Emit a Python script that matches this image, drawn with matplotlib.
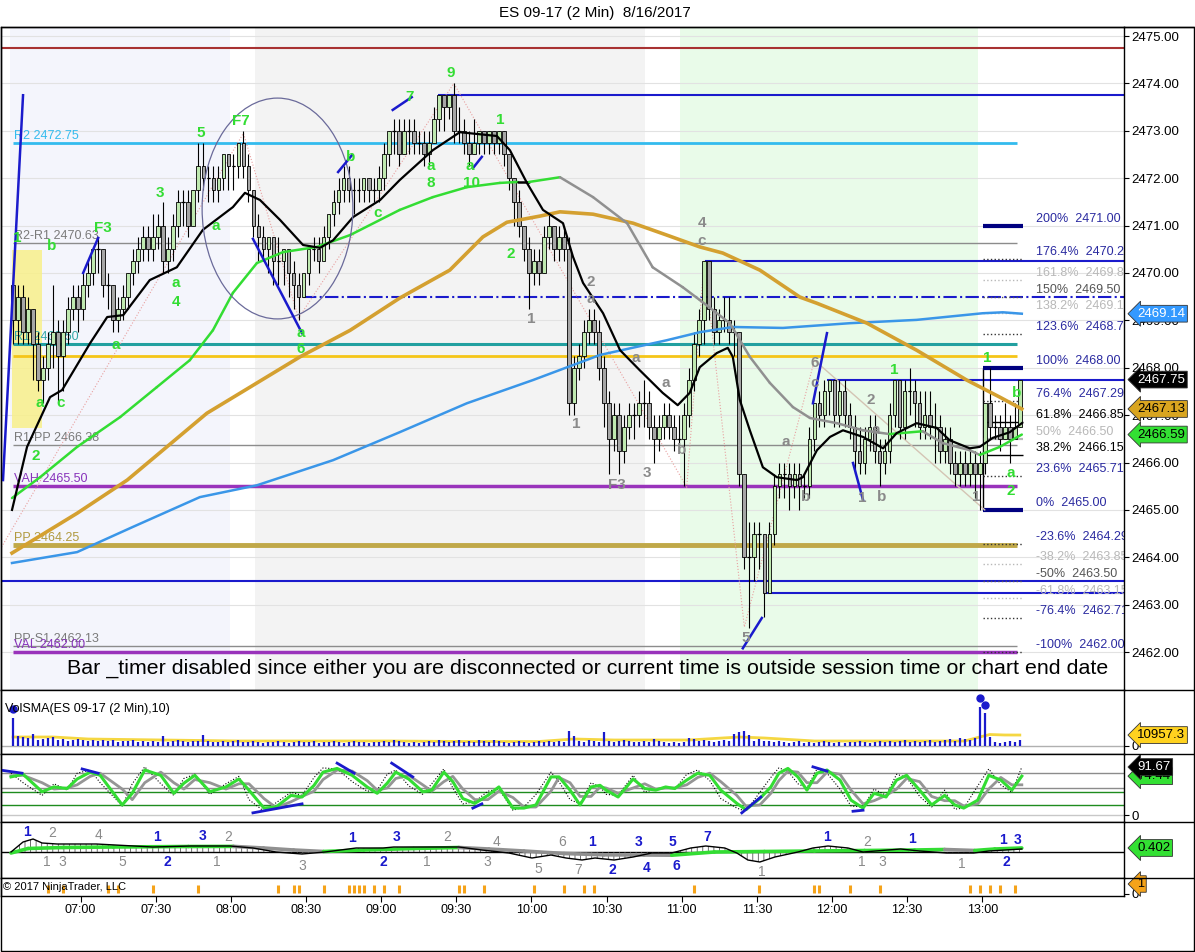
import matplotlib
matplotlib.use("Agg")
import matplotlib.pyplot as plt
import numpy as np
from matplotlib.patches import Ellipse, Rectangle
from matplotlib.collections import LineCollection
from matplotlib.lines import Line2D

plt.rcParams['font.family'] = ['Liberation Sans', 'DejaVu Sans']
plt.rcParams['hatch.linewidth'] = 0.6

# 2 min bars, bar 0 sits at 06:33 (minutes after midnight)
BAR0_MIN = 393
BAR_MIN = 2

# ---------------- price bars ----------------
first_open = 2469.75
closes = [
    2469.0, 2469.5, 2468.75, 2469.25, 2468.5, 2467.75, 2468.0, 2468.5, 2468.75, 2468.25,
    2468.75, 2469.25, 2469.5, 2469.25, 2469.75, 2470.0, 2470.5, 2470.5, 2469.75, 2469.75,
    2469.0, 2469.25, 2469.5, 2470.0, 2470.25, 2470.5, 2470.75, 2470.5, 2470.75, 2471.0,
    2470.25, 2470.5, 2471.0, 2471.5, 2471.5, 2471.0, 2471.75, 2472.25, 2472.0, 2472.0,
    2471.75, 2472.0, 2472.5, 2472.25, 2472.25, 2472.75, 2472.25, 2471.75, 2471.0, 2470.75,
    2470.5, 2470.75, 2470.25, 2470.25, 2470.5, 2470.0, 2469.75, 2469.5, 2470.0, 2470.5,
    2470.5, 2470.25, 2470.75, 2471.25, 2471.5, 2471.75, 2472.0, 2471.75, 2471.75, 2471.75,
    2472.0, 2471.75, 2471.75, 2472.0, 2472.5, 2473.0, 2473.0, 2472.5, 2473.0, 2473.0,
    2472.75, 2472.75, 2472.5, 2472.75, 2473.25, 2473.75, 2473.5, 2473.75, 2473.0, 2473.0,
    2472.75, 2472.5, 2472.75, 2473.0, 2472.75, 2473.0, 2472.75, 2473.0, 2472.5, 2472.0,
    2471.5, 2471.0, 2470.5, 2470.0, 2470.25, 2470.0, 2470.75, 2471.0, 2470.5, 2470.75,
    2470.5, 2467.25, 2468.0, 2468.25, 2468.75, 2469.0, 2468.75, 2468.0, 2467.25, 2466.5,
    2467.0, 2466.25, 2466.75, 2467.0, 2467.0, 2467.25, 2467.25, 2466.75, 2466.5, 2466.75,
    2467.0, 2466.75, 2466.5, 2466.5, 2467.0, 2467.75, 2468.5, 2469.0, 2470.25, 2469.25,
    2468.75, 2469.0, 2469.0, 2468.75, 2468.75, 2465.75, 2464.0, 2464.0, 2464.5, 2464.5,
    2463.25, 2464.5, 2465.5, 2465.75, 2465.75, 2465.5, 2465.75, 2465.5, 2465.5, 2466.5,
    2467.25, 2467.0, 2467.5, 2467.75, 2467.0, 2467.5, 2467.0, 2466.75, 2466.25, 2466.0,
    2466.5, 2466.75, 2466.25, 2466.0, 2466.25, 2467.0, 2467.75, 2466.75, 2467.5, 2467.5,
    2467.25, 2466.75, 2467.0, 2466.75, 2466.75, 2466.25, 2466.5, 2466.0, 2465.75, 2466.0,
    2465.75, 2466.0, 2465.75, 2466.0, 2467.25, 2466.75, 2466.75, 2466.5, 2466.75, 2466.5,
    2466.75, 2467.75]
highs = [
    2469.75, 2469.75, 2469.75, 2469.5, 2469.25, 2468.75, 2468.25, 2468.75, 2469.75, 2469.0,
    2469.0, 2469.5, 2469.75, 2469.75, 2470.0, 2470.25, 2470.5, 2470.75, 2470.5, 2470.0,
    2469.75, 2469.5, 2469.75, 2470.0, 2470.5, 2470.75, 2471.0, 2471.0, 2471.25, 2471.25,
    2471.5, 2470.75, 2471.25, 2471.75, 2471.75, 2471.75, 2471.75, 2472.75, 2472.75, 2472.25,
    2472.25, 2472.25, 2472.5, 2472.5, 2472.5, 2472.75, 2473.0, 2472.5, 2471.75, 2471.25,
    2471.0, 2470.75, 2470.75, 2470.75, 2470.5, 2470.5, 2470.25, 2470.0, 2470.0, 2470.5,
    2470.75, 2470.75, 2471.0, 2471.25, 2471.75, 2472.0, 2472.25, 2472.25, 2472.0, 2472.0,
    2472.0, 2472.0, 2472.0, 2472.25, 2472.75, 2473.0, 2473.25, 2473.25, 2473.25, 2473.25,
    2473.25, 2473.0, 2473.0, 2473.0, 2473.5, 2473.75, 2473.75, 2473.75, 2474.0, 2473.5,
    2473.25, 2473.0, 2473.25, 2473.0, 2473.0, 2473.0, 2473.0, 2473.0, 2473.0, 2472.5,
    2472.0, 2471.75, 2471.0, 2470.75, 2470.5, 2470.5, 2471.0, 2471.25, 2471.0, 2471.0,
    2471.0, 2470.75, 2468.25, 2468.5, 2469.0, 2469.25, 2469.25, 2469.0, 2468.25, 2467.5,
    2467.25, 2467.25, 2467.0, 2467.25, 2467.25, 2467.5, 2467.75, 2467.5, 2467.0, 2467.0,
    2467.25, 2467.25, 2467.0, 2467.0, 2467.25, 2468.0, 2468.75, 2469.25, 2470.25, 2470.25,
    2469.5, 2469.25, 2469.5, 2469.5, 2469.0, 2468.75, 2465.75, 2464.75, 2464.75, 2464.75,
    2464.5, 2464.75, 2465.75, 2466.0, 2466.0, 2466.0, 2466.0, 2466.0, 2465.75, 2466.75,
    2467.25, 2467.5, 2467.75, 2467.75, 2467.75, 2467.75, 2467.75, 2467.25, 2467.0, 2466.75,
    2466.75, 2467.0, 2467.0, 2466.5, 2466.5, 2467.25, 2467.75, 2467.75, 2467.75, 2468.0,
    2467.75, 2467.5, 2467.5, 2467.5, 2467.25, 2467.0, 2466.75, 2466.75, 2466.25, 2466.25,
    2466.25, 2466.25, 2466.25, 2466.25, 2467.25, 2468.0, 2467.0, 2467.0, 2467.25, 2467.0,
    2467.25, 2467.75]
lows = [
    2468.5, 2468.5, 2468.5, 2468.5, 2467.75, 2467.5, 2467.25, 2467.75, 2468.0, 2467.25,
    2467.5, 2468.5, 2469.0, 2468.75, 2469.0, 2469.5, 2469.75, 2470.0, 2469.5, 2469.25,
    2468.75, 2468.75, 2469.0, 2469.25, 2469.75, 2470.0, 2470.25, 2470.25, 2470.25, 2470.5,
    2470.0, 2470.0, 2470.25, 2470.75, 2471.0, 2470.75, 2471.0, 2471.5, 2471.75, 2471.5,
    2471.5, 2471.5, 2471.75, 2471.75, 2471.75, 2472.0, 2472.0, 2471.5, 2470.75, 2470.25,
    2470.25, 2470.0, 2469.75, 2469.75, 2469.75, 2469.5, 2469.25, 2469.0, 2469.5, 2469.75,
    2470.25, 2470.0, 2470.25, 2470.5, 2471.0, 2471.25, 2471.5, 2471.5, 2471.25, 2471.5,
    2471.5, 2471.5, 2471.5, 2471.5, 2471.75, 2472.25, 2472.5, 2472.25, 2472.5, 2472.5,
    2472.5, 2472.5, 2472.25, 2472.25, 2472.75, 2473.0, 2473.0, 2473.25, 2472.75, 2472.75,
    2472.5, 2472.25, 2472.5, 2472.5, 2472.5, 2472.5, 2472.5, 2472.5, 2472.25, 2471.75,
    2471.0, 2470.75, 2470.25, 2469.25, 2469.75, 2469.75, 2470.0, 2470.5, 2470.25, 2470.25,
    2470.25, 2467.0, 2467.0, 2467.75, 2468.0, 2468.5, 2468.5, 2467.75, 2466.75, 2465.75,
    2466.25, 2465.75, 2466.0, 2466.5, 2466.5, 2466.75, 2466.75, 2466.5, 2466.0, 2466.25,
    2466.5, 2466.5, 2466.25, 2466.25, 2465.5, 2466.75, 2467.5, 2468.25, 2468.5, 2469.0,
    2468.5, 2468.5, 2468.75, 2468.5, 2468.25, 2465.5, 2463.75, 2462.5, 2463.5, 2463.75,
    2462.75, 2463.25, 2464.25, 2465.25, 2465.25, 2465.0, 2465.25, 2465.0, 2465.25, 2465.25,
    2466.25, 2466.75, 2466.75, 2467.0, 2466.75, 2466.75, 2466.75, 2466.5, 2465.75, 2465.75,
    2465.75, 2466.25, 2466.0, 2465.5, 2465.75, 2466.0, 2466.75, 2466.5, 2466.5, 2467.0,
    2466.75, 2466.5, 2466.5, 2466.5, 2466.0, 2466.0, 2466.0, 2465.75, 2465.5, 2465.5,
    2465.5, 2465.5, 2465.25, 2465.0, 2465.75, 2466.5, 2466.5, 2466.25, 2466.5, 2466.0,
    2466.5, 2466.75]

# volume in thousands of contracts
volume_k = [
    28, 10, 9, 8, 12, 6, 7, 8, 9, 6,
    7, 5, 6, 7, 6, 5, 6, 5, 6, 5,
    6, 4, 5, 5, 6, 4, 5, 4, 5, 4,
    10, 4, 5, 6, 5, 4, 5, 5, 11, 5,
    4, 4, 5, 4, 5, 6, 4, 4, 5, 4,
    3, 4, 4, 5, 4, 3, 4, 5, 4, 4,
    5, 3, 4, 4, 5, 4, 3, 4, 5, 4,
    4, 3, 4, 4, 5, 4, 6, 5, 4, 3,
    4, 3, 4, 5, 4, 6, 5, 4, 5, 6,
    4, 5, 4, 6, 5, 4, 6, 5, 4, 3,
    4, 5, 4, 3, 4, 5, 4, 5, 4, 5,
    4, 15, 10, 5, 4, 6, 5, 4, 14, 5,
    4, 5, 6, 5, 4, 4, 5, 4, 7, 5,
    4, 3, 4, 3, 4, 8, 7, 5, 6, 5,
    4, 5, 6, 5, 12, 14, 15, 11, 5, 7,
    5, 5, 4, 5, 4, 3, 4, 5, 3, 4,
    3, 4, 5, 4, 3, 4, 3, 4, 4, 5,
    4, 3, 4, 5, 4, 5, 4, 5, 6, 4,
    5, 4, 5, 6, 4, 5, 6, 7, 5, 8,
    7, 6, 8, 39, 33, 9, 4, 3, 4, 5,
    4, 6]
volsma_x = [0, 8, 15, 30, 45, 60, 75, 90, 105, 112, 120, 135, 145, 150, 160, 175, 190, 193, 195, 198, 201]
volsma_k = [9, 9, 7, 6, 5, 5, 5, 4.5, 4.5, 7, 6, 6, 9, 8, 5, 5, 5, 9, 11.5, 11, 10.96]
voldot_x = [0, 193, 194]
voldot_k = [37, 48, 41]

# ---------------- moving averages (bar, price) ----------------
ema_x = [-0.2, 2.8, 7.4, 9.8, 15.4, 18.8, 22.0, 27.3, 32.7, 37.9, 43.9, 46.3, 49.3, 53.3, 57.9, 61.3,
         63.9, 67.9, 73.3, 77.2, 83.8, 89.2, 96.6, 99.2, 102.6, 105.8, 109.8, 111.8, 113.8, 117.8,
         121.2, 125.1, 129.7, 132.7, 135.1, 137.1, 140.5, 142.7, 143.7, 145.1, 147.1, 149.7, 152.5,
         156.5, 157.7, 160.5, 163.1, 165.7, 169.7, 173.7, 176.4, 180.4, 184.4, 187.0, 191.0, 193.0,
         195.6, 199.0, 201.4]
ema_y = [2465.00, 2466.33, 2467.38, 2467.53, 2468.52, 2469.07, 2469.11, 2469.85, 2470.12, 2470.91,
         2471.39, 2471.69, 2471.54, 2471.12, 2470.59, 2470.53, 2470.69, 2471.18, 2471.54, 2471.96,
         2472.59, 2472.97, 2472.89, 2472.59, 2471.90, 2471.33, 2471.05, 2470.34, 2469.79, 2469.15,
         2468.37, 2467.95, 2467.47, 2467.21, 2467.47, 2468.01, 2468.31, 2468.42, 2468.23, 2467.32,
         2466.68, 2465.90, 2465.69, 2465.63, 2465.69, 2466.26, 2466.54, 2466.68, 2466.54, 2466.30,
         2466.62, 2466.83, 2466.73, 2466.47, 2466.30, 2466.33, 2466.52, 2466.64, 2466.83]
mid_x = [-0.2, 5.4, 12.8, 21.4, 28.7, 35.3, 39.9, 43.9, 48.7, 53.9, 60.7, 67.3, 77.2, 83.8, 90.6,
         97.2, 100.8, 103.0, 109.2, 115.8, 122.6, 127.7, 133.7, 137.1, 143.1, 147.1, 151.1, 155.7,
         159.1, 164.5, 169.7, 175.0, 181.6, 185.6, 191.0, 193.0, 197.0, 201.4]
mid_y = [2465.25, 2465.69, 2466.33, 2466.96, 2467.59, 2468.16, 2468.79, 2469.58, 2470.21, 2470.44,
         2470.55, 2470.80, 2471.33, 2471.60, 2471.81, 2471.90, 2471.92, 2471.92, 2472.02, 2471.60,
         2471.05, 2470.12, 2469.70, 2469.43, 2468.94, 2468.23, 2467.68, 2467.17, 2466.94, 2466.83,
         2466.68, 2466.60, 2466.66, 2466.41, 2466.26, 2466.16, 2466.33, 2466.59]
gold_x = [-0.2, 12.8, 22.8, 30.7, 38.7, 47.3, 57.3, 67.3, 77.2, 87.2, 93.8, 98.6, 105.2, 109.2, 115.8,
          123.8, 130.5, 137.1, 141.7, 149.1, 157.1, 160.5, 170.5, 180.4, 190.4, 197.0, 201.4]
gold_y = [2464.09, 2464.93, 2465.63, 2466.33, 2467.04, 2467.59, 2468.23, 2468.79, 2469.47, 2470.06,
          2470.76, 2471.07, 2471.20, 2471.29, 2471.24, 2471.05, 2470.80, 2470.55, 2470.42, 2470.06,
          2469.49, 2469.36, 2468.94, 2468.37, 2467.74, 2467.38, 2467.13]
slow_x = [-0.2, 12.8, 23.9, 37.3, 48.7, 63.9, 77.2, 90.6, 103.8, 117.2, 130.5, 137.1, 143.7, 153.7,
          167.1, 180.4, 193.6, 197.6, 201.4]
slow_y = [2463.88, 2464.11, 2464.64, 2465.27, 2465.52, 2466.05, 2466.64, 2467.25, 2467.74, 2468.27,
          2468.58, 2468.75, 2468.86, 2468.84, 2468.94, 2469.01, 2469.15, 2469.17, 2469.14]

# swing zigzag
zz_x = [-2.6, 46, 57, 88, 134.5, 138, 146, 160]
zz_y = [2464.16, 2472.95, 2469.05, 2474.0, 2465.48, 2470.27, 2462.53, 2468.16]
zz2_x = [160, 194]
zz2_y = [2468.16, 2465.0]

# short blue trend strokes
blue_x0 = [-2.0, 14.0, 47.9, 64.9, 75.8, 91.8, 159.7, 167.7, 145.7]
blue_y0 = [2465.63, 2470.0, 2470.72, 2472.13, 2473.44, 2472.21, 2467.25, 2465.99, 2462.08]
blue_x1 = [2.0, 17.0, 57.7, 67.7, 79.6, 93.6, 162.5, 169.7, 149.5]
blue_y1 = [2473.75, 2470.74, 2468.73, 2472.49, 2473.71, 2472.45, 2468.73, 2465.21, 2462.72]

# wave labels (bar, price, text)
green_labels = [
    (0.8, 2470.74, '1'), (7.8, 2470.57, 'b'), (5.4, 2467.25, 'a'), (9.6, 2467.25, 'c'),
    (4.6, 2466.14, '2'), (18.0, 2470.95, 'F3'), (20.6, 2468.48, 'a'), (29.3, 2471.69, '3'),
    (32.5, 2469.79, 'a'), (32.5, 2469.39, '4'), (37.5, 2472.95, '5'), (45.5, 2473.21, 'F7'),
    (40.5, 2470.99, 'a'), (57.5, 2468.73, 'a'), (57.5, 2468.39, '6'), (67.5, 2472.45, 'b'),
    (72.7, 2471.26, 'c'), (79.2, 2473.71, '7'), (83.4, 2472.26, 'a'), (83.4, 2471.90, '8'),
    (87.4, 2474.22, '9'), (91.2, 2472.26, 'a'), (91.6, 2471.90, '10'), (97.2, 2473.23, '1'),
    (99.4, 2470.40, '2'), (176.0, 2467.95, '1'), (194.4, 2468.20, '1'), (200.4, 2467.47, 'b'),
    (199.2, 2465.78, 'a'), (199.2, 2465.40, '2')]
gray_labels = [
    (103.4, 2469.03, '1'), (115.4, 2469.81, '2'), (115.4, 2469.45, 'a'), (112.4, 2466.81, '1'),
    (120.6, 2465.52, 'F3'), (126.5, 2465.78, '3'), (124.4, 2468.20, 'a'), (130.3, 2467.68, 'a'),
    (133.5, 2466.26, 'b'), (137.5, 2471.05, '4'), (137.5, 2470.67, 'c'), (146.3, 2462.29, '5'),
    (154.3, 2466.43, 'a'), (158.3, 2465.27, 'b'), (160.1, 2468.10, '6'), (160.1, 2467.68, 'c'),
    (171.3, 2467.32, '2'), (172.3, 2466.68, 'a'), (169.5, 2465.25, '1'), (173.5, 2465.27, 'b'),
    (192.4, 2465.27, '1')]

# pivot / value area levels: price, start bar, end bar, label
levels = [
    (2474.75, -3, 230, '#a83232', 1.5, '-', None),
    (2473.75, 84.8, 230, '#1a1acc', 1.5, '-', None),
    (2472.75, 0, 200.4, '#33bbee', 2.0, '-', 'R2 2472.75'),
    (2470.63, 0, 200.4, '#8c8c8c', 1.0, '-', 'R2-R1 2470.63'),
    (2470.25, 138.1, 230, '#1a1acc', 1.5, '-', None),
    (2469.50, 57.9, 230, '#1a1acc', 1.5, '-.', None),
    (2468.50, 0, 200.4, '#22a0a0', 2.2, '-', 'R1 2468.50'),
    (2468.25, 0, 200.4, '#f5c518', 2.0, '-', None),
    (2467.75, 162.5, 230, '#1a1acc', 1.5, '-', None),
    (2466.38, 0, 200.4, '#8c8c8c', 1.0, '-', 'R1-PP 2466.38'),
    (2465.50, 0, 200.4, '#9933bb', 2.5, '-', 'VAH 2465.50'),
    (2464.25, 0, 200.4, '#c0a848', 3.5, '-', 'PP 2464.25'),
    (2463.50, -3, 230, '#1a1acc', 1.5, '-', None),
    (2463.25, 150.1, 230, '#1a1acc', 1.5, '-', None),
    (2462.13, 0, 200.4, '#8c8c8c', 1.0, '-', 'PP-S1 2462.13'),
    (2462.00, 0, 200.4, '#9933bb', 2.5, '-', 'VAL 2462.00')]
level_label_colors = {'R2 2472.75': '#33bbee', 'R2-R1 2470.63': '#7a7a7a', 'R1 2468.50': '#33a8a8',
                      'R1-PP 2466.38': '#7a7a7a', 'VAH 2465.50': '#8833bb', 'PP 2464.25': '#b09a40',
                      'PP-S1 2462.13': '#7a7a7a', 'VAL 2462.00': '#8833bb'}

# fibonacci extension on the right
fib_prices = [2471.00, 2470.29, 2469.85, 2469.50, 2469.15, 2468.71, 2468.00, 2467.29, 2466.85, 2466.50,
              2466.15, 2465.71, 2465.00, 2464.29, 2463.85, 2463.50, 2463.15, 2462.71, 2462.00]
fib_text = ['200%  2471.00', '176.4%  2470.29', '161.8%  2469.85', '150%  2469.50', '138.2%  2469.15',
            '123.6%  2468.71', '100%  2468.00', '76.4%  2467.29', '61.8%  2466.85', '50%  2466.50',
            '38.2%  2466.15', '23.6%  2465.71', '0%  2465.00', '-23.6%  2464.29', '-38.2%  2463.85',
            '-50%  2463.50', '-61.8%  2463.15', '-76.4%  2462.71', '-100%  2462.00']
fib_kind = ['main', 'blue', 'light', 'dark', 'light', 'blue', 'main', 'blue', 'black', 'half',
            'black', 'blue', 'main', 'blue', 'light', 'dark', 'light', 'blue', 'blue']

# background session shading (bar ranges)
shade_x0 = [-0.6, 48.3, 133.1]
shade_x1 = [43.3, 126.1, 192.6]
shade_col = ['#f4f5fc', '#f3f3f3', '#e9fbe9']

# ---------------- stochastics ----------------
stoch_x = [-0.4, 2.0, 5.8, 8.2, 10.8, 12.8, 15.4, 17.4, 21.8, 23.8, 26.3, 29.5, 32.1, 34.1, 36.3, 39.3,
           42.5, 45.1, 47.1, 50.1, 52.5, 55.5, 57.7, 60.1, 61.9, 64.7, 67.7, 70.7, 72.7, 74.7, 76.4,
           79.0, 81.8, 83.6, 86.0, 87.8, 89.8, 92.2, 94.8, 97.0, 99.8, 102.0, 104.4, 107.4, 109.0,
           111.2, 113.2, 115.4, 117.2, 118.4, 120.8, 123.8, 126.1, 128.3, 130.3, 132.1, 134.5, 136.7,
           139.1, 141.3, 144.5, 146.3, 149.1, 151.3, 152.9, 154.7, 156.7, 158.5, 160.5, 162.5, 165.1,
           167.3, 169.7, 171.9, 174.3, 176.4, 178.4, 181.0, 183.4, 186.0, 188.0, 189.8, 192.6, 194.8,
           197.2, 199.4, 201.4]
stoch_green = [73, 78, 45, 54, 51, 69, 82, 76, 20, 42, 86, 76, 42, 61, 76, 45, 54, 69, 48, 14,
               16, 38, 35, 57, 82, 89, 76, 54, 42, 61, 82, 69, 45, 48, 82, 64, 32, 23, 38, 54,
               14, 14, 20, 73, 73, 48, 20, 54, 57,
               48, 35, 69, 51, 48, 54, 51, 67, 80, 76, 48, 23, 11, 32, 54, 80, 89, 73, 48, 80,
               86, 67, 29, 14, 42, 35, 67, 76, 48, 20, 38, 20, 14, 29, 76, 67, 48, 74.44]
stoch_gray = [75, 76, 62, 50, 52, 58, 74, 80, 50, 30, 62, 82, 62, 50, 68, 62, 50, 60, 60, 32,
              15, 26, 36, 46, 68, 86, 84, 66, 48, 52, 70, 76, 58, 46, 64, 74, 50, 30, 30, 46,
              34, 16, 16, 46, 72, 62, 36, 36, 54,
              52, 42, 52, 60, 50, 52, 52, 58, 72, 80, 64, 38, 18, 20, 42, 66, 84, 82, 62, 62,
              82, 78, 48, 22, 28, 38, 50, 70, 64, 36, 28, 28, 18, 22, 50, 72, 58, 58]
stoch_fast = [80, 62, 38, 60, 48, 80, 86, 62, 18, 60, 92, 60, 38, 70, 78, 40, 60, 74, 30, 8,
              24, 44, 38, 72, 90, 88, 64, 46, 48, 78, 86, 56, 40, 60, 88, 52, 22, 26, 46, 50,
              10, 16, 40, 82, 64, 30, 22, 62, 54,
              40, 38, 76, 44, 50, 54, 50, 78, 86, 66, 32, 14, 8, 44, 72, 90, 84, 60, 52, 88,
              80, 50, 18, 16, 50, 38, 78, 72, 36, 16, 48, 12, 14, 56, 88, 58, 44, 91.67]
stoch_div_x0 = [-2.6, 13.8, 47.9, 64.7, 75.6, 91.8, 145.5, 159.7, 167.7]
stoch_div_y0 = [86, 88, 5, 99, 99, 14, 5, 92, 8]
stoch_div_x1 = [1.8, 17.0, 57.7, 68.1, 79.8, 93.6, 149.3, 162.5, 169.7]
stoch_div_y1 = [80, 80, 22, 80, 73, 22, 35, 84, 10]

# ---------------- oscillator ----------------
osc_x = [-0.4, 2.0, 4.0, 5.8, 8.8, 16.6, 20.4, 27.9, 35.5, 43.3, 47.9, 52.5, 57.7, 62.3, 68.5, 73.9,
         76.0, 89.0, 93.6, 99.0, 103.6, 107.4, 110.4, 113.6, 116.2, 120.0, 123.8, 127.5, 131.5, 135.3,
         138.3, 142.1, 144.5, 146.7, 149.1, 152.1, 156.7, 159.7, 162.7, 166.7, 169.7, 177.2, 181.0,
         186.4, 191.8, 194.8, 201.4]
osc_val = [0.0, 1.0, 1.3, 0.9, 0.8, 0.8, 0.7, 0.5, 0.6, 0.6, 0.4, 0.0, -0.2, 0.0, 0.4, 0.4, 0.5, 0.5,
           0.2, -0.1, -0.6, -0.3, -0.6, -0.8, -0.6, -0.8, -0.5, -0.1, -0.1, 0.4, 0.6, 0.4, -0.1, -0.8,
           -1.0, -0.5, 0.0, 0.4, 0.6, 0.4, 0.0, 0.3, 0.1, -0.1, -0.1, 0.1, 0.3]
sig_x = [-0.4, 3, 10, 20, 35, 44, 50, 56, 62, 70, 80, 89, 95, 102, 110, 118, 126, 131.5, 140, 150,
         160, 170, 180, 186, 192, 196, 201.4]
sig_val = [-0.1, 0.35, 0.45, 0.5, 0.55, 0.56, 0.4, 0.2, 0.05, 0.2, 0.35, 0.45, 0.3, 0.1, -0.15, -0.28,
           -0.3, -0.32, 0.0, 0.05, 0.1, 0.15, 0.2, 0.25, 0.15, 0.3, 0.402]
osc_blue_labels = [(2.8, 2.0, '1'), (28.7, 1.5, '1'), (37.9, 1.6, '3'), (30.9, -1.0, '2'), (67.7, 1.4, '1'),
                   (76.6, 1.5, '3'), (73.9, -1.0, '2'), (115.6, 1.0, '1'), (124.8, 1.0, '3'),
                   (131.7, 1.0, '5'), (138.5, 1.5, '7'), (119.6, -1.8, '2'), (126.5, -1.6, '4'),
                   (132.5, -1.4, '6'), (162.5, 1.5, '1'), (179.4, 1.3, '1'), (197.6, 1.2, '1'),
                   (200.6, 1.2, '3'), (198.4, -1.0, '2')]
osc_gray_labels = [(7.8, 1.9, '2'), (17.0, 1.7, '4'), (42.9, 1.5, '2'), (6.8, -1.0, '1'), (9.8, -1.0, '3'),
                   (21.8, -1.0, '5'), (40.7, -1.0, '1'), (57.7, -1.4, '3'), (86.6, 1.5, '2'),
                   (96.6, 1.0, '4'), (109.6, 1.0, '6'), (82.6, -1.0, '1'), (94.6, -1.0, '3'),
                   (104.8, -1.7, '5'), (112.8, -1.8, '7'), (149.5, -2.0, '1'), (170.5, 1.0, '2'),
                   (169.5, -1.0, '1'), (173.5, -1.0, '3'), (189.4, -1.2, '1')]

# signal markers (orange ticks)
signal_bars = [7, 10, 19, 21, 28, 37, 53, 56, 57, 62, 67, 68, 69, 70, 72, 74, 77, 89, 90, 94, 104,
               110, 114, 116, 136, 149, 160, 161, 167, 173, 191, 193, 195, 197, 200]

time_labels = ['07:00', '07:30', '08:00', '08:30', '09:00', '09:30', '10:00', '10:30',
               '11:00', '11:30', '12:00', '12:30', '13:00']

# ---------------- figure ----------------
W, H = 1195, 952
fig = plt.figure(figsize=(W / 100, H / 100), dpi=100)


def rect(top, bottom, left=1, right=1124):
    return [left / W, 1 - bottom / H, (right - left) / W, (bottom - top) / H]


ax = fig.add_axes(rect(27, 690))
axv = fig.add_axes(rect(690, 754), sharex=ax)
axs = fig.add_axes(rect(754, 822), sharex=ax)
axo = fig.add_axes(rect(822, 878), sharex=ax)
axm = fig.add_axes(rect(878, 896), sharex=ax)

for a in (ax, axv, axs, axo, axm):
    a.set_facecolor('white')
    for sp in a.spines.values():
        sp.set_color('black')
        sp.set_linewidth(1)
    a.tick_params(axis='x', length=0, labelbottom=False)
    a.yaxis.tick_right()
    a.tick_params(axis='y', length=3.6, pad=2, labelsize=9.5, colors='black')

ax.set_xlim(-2.4, 221.8)
ax.set_ylim(2461.20, 2475.19)
ax.set_yticks(np.arange(2462, 2476, 1.0))
ax.set_yticklabels([f'{v:.2f}' for v in np.arange(2462, 2476, 1.0)])
ax.grid(axis='y', color='#e2e2e2', lw=0.8, zorder=0.5)
ax.set_axisbelow(True)

for x0, x1, col in zip(shade_x0, shade_x1, shade_col):
    ax.axvspan(x0, x1, color=col, zorder=0, lw=0)

# opening range box
ax.add_patch(Rectangle((-0.2, 2466.73), 6.0, 3.75, fc='#f8f08a', ec='none', alpha=0.85, zorder=0.8))

for price, x0, x1, col, lw, ls, lab in levels:
    ax.hlines(price, x0, x1, color=col, lw=lw, linestyles=ls, zorder=1)
    if lab:
        ax.annotate(lab, (0.2, price), xytext=(0, 1), textcoords='offset pixels', va='bottom',
                    ha='left', fontsize=9, color=level_label_colors[lab], zorder=1.1)

# fib extension
fx0, fx1, flab = 193.6, 201.6, 204.2
ax.vlines(fx0, 2465.0, 2468.0, color='black', lw=1, zorder=1.2)
fib_line = {'main': ('#000080', 3.0, '-'), 'blue': ('#333333', 1.0, ':'), 'light': ('#b8b8b8', 1.0, ':'),
            'dark': ('#555555', 1.0, ':'), 'black': ('black', 1.0, '-'), 'half': ('#b8b8b8', 1.6, '-')}
fib_color = {'main': '#2a2aa0', 'blue': '#2a2aa0', 'light': '#b8b8b8', 'dark': '#555555',
             'black': 'black', 'half': '#b8b8b8'}
for p, t, k in zip(fib_prices, fib_text, fib_kind):
    col, lw, ls = fib_line[k]
    ax.hlines(p, fx0, fx1, color=col, lw=lw, linestyles=ls, zorder=1.3)
    ax.annotate(t, (flab, p), xytext=(0, 1), textcoords='offset pixels', va='bottom', ha='left',
                fontsize=9, color=fib_color[k], annotation_clip=True, clip_on=True, zorder=1.3)

# zigzag
ax.plot(zz_x, zz_y, color='#e8a0a0', lw=0.8, ls=':', zorder=1.5)
ax.plot(zz2_x, zz2_y, color='#d4c4b4', lw=1.0, zorder=1.5)

# candles
n = len(closes)
bx = np.arange(n)
c = np.array(closes)
o = np.array([first_open] + closes[:-1])
hi = np.maximum(np.array(highs), np.maximum(o, c))
lo = np.minimum(np.array(lows), np.minimum(o, c))
ax.vlines(bx, lo, hi, color='black', lw=0.8, zorder=2)
cols = ['#bfe9b0' if cc > oo else '#a6a6a6' for oo, cc in zip(o, c)]
ax.bar(bx, c - o, bottom=o, width=0.74, color=cols, edgecolor='black', linewidth=0.6, zorder=2.1)
doji = np.isclose(c, o)
ax.hlines(c[doji], bx[doji] - 0.37, bx[doji] + 0.37, color='black', lw=0.9, zorder=2.1)


def slope_line(axis, xs, ys, lw, up='#33dd33', down='#909090', flat='black', z=3):
    pts = np.column_stack([xs, ys])
    segs = np.stack([pts[:-1], pts[1:]], axis=1)
    dy = np.diff(ys)
    colors = [up if d > 1e-9 else (down if d < -1e-9 else flat) for d in dy]
    axis.add_collection(LineCollection(segs, colors=colors, linewidths=lw, zorder=z,
                                       capstyle='round', joinstyle='round'))


ax.plot(slow_x, slow_y, color='#3a96e8', lw=1.8, zorder=3)
ax.plot(gold_x, gold_y, color='#d4a030', lw=2.6, zorder=3)
slope_line(ax, mid_x, mid_y, 1.8)
ax.plot(ema_x, ema_y, color='black', lw=1.6, zorder=3.2)

ax.add_patch(Ellipse((52.8, 2471.36), 30.1, 4.66, fill=False, ec='#6a6a9a', lw=0.9, zorder=3.3))

for x0, y0, x1, y1 in zip(blue_x0, blue_y0, blue_x1, blue_y1):
    ax.plot([x0, x1], [y0, y1], color='#1a1acc', lw=1.8, zorder=3.4)

for x, y, t in green_labels:
    ax.text(x, y, t, color='#33dd33', fontsize=11, fontweight='bold', ha='center', va='center', zorder=5)
for x, y, t in gray_labels:
    ax.text(x, y, t, color='#8a8a8a', fontsize=11, fontweight='bold', ha='center', va='center', zorder=5)

ax.text(0.5227, 0.0332, 'Bar _timer disabled since either you are disconnected or current time is '
        'outside session time or chart end date', transform=ax.transAxes, ha='center', va='center',
        fontsize=15.4, color='black', zorder=6)


def tag(axis, y, text, fc, tc='black', fs=9.5):
    axis.annotate(text, xy=(1, y), xycoords=axis.get_yaxis_transform(), xytext=(13, 0),
                  textcoords='offset pixels', ha='left', va='center', fontsize=fs, color=tc,
                  annotation_clip=False, zorder=10,
                  bbox=dict(boxstyle='larrow,pad=0.18', fc=fc, ec='#333333', lw=0.6))


tag(ax, 2469.14, '2469.14', '#3399ff', 'white')
tag(ax, 2466.59, '2466.59', '#33e033')
tag(ax, 2467.13, '2467.13', '#d9a520')
tag(ax, 2467.75, '2467.75', 'black', 'white')

# ---------------- volume panel ----------------
axv.set_ylim(-8, 56)
axv.axhline(0, color='#b0b0b0', lw=1)
axv.vlines(bx, 0, volume_k, color='#1a1acc', lw=1.6, zorder=2)
axv.plot(volsma_x, volsma_k, color='#f5d742', lw=2, zorder=1.5)
axv.plot(voldot_x, voldot_k, 'o', color='#1a1acc', ms=5, zorder=3)
axv.set_yticks([0])
axv.set_yticklabels(['0'])
axv.text(0.0036, 0.70, 'VolSMA(ES 09-17 (2 Min),10)', transform=axv.transAxes, fontsize=9,
         va='center', ha='left')
tag(axv, 10.96, '10957.3', '#ffd21f')

# ---------------- stochastics panel ----------------
axs.set_ylim(-12.3, 116.3)
for lvl, col in [(80, '#8c8c8c'), (52, '#8c8c8c'), (45, '#1e8c1e'), (20, '#1e8c1e'), (0, '#c8c8c8')]:
    axs.axhline(lvl, color=col, lw=1, zorder=1)
axs.plot(stoch_x, stoch_fast, color='black', lw=0.8, ls=':', zorder=2)
axs.plot(stoch_x, stoch_gray, color='#959595', lw=2.0, zorder=2.2)
axs.plot(stoch_x, stoch_green, color='#33dd33', lw=2.2, zorder=2.4)
for x0, y0, x1, y1 in zip(stoch_div_x0, stoch_div_y0, stoch_div_x1, stoch_div_y1):
    axs.plot([x0, x1], [y0, y1], color='#1a1acc', lw=2, zorder=3)
axs.set_yticks([0])
axs.set_yticklabels(['0'])
tag(axs, 74.44, '74.44', '#33e033')
tag(axs, 91.67, '91.67', 'black', 'white')

# ---------------- oscillator panel ----------------
axo.set_ylim(-2.6, 3.0)
axo.axhline(0, color='black', lw=1, zorder=1)
axo.fill_between(osc_x, osc_val, 0, facecolor='none', edgecolor='#555555', hatch='|||', lw=0, zorder=1.5)
slope_line(axo, sig_x, sig_val, 2.6, z=2)
axo.plot(osc_x, osc_val, color='black', lw=1.0, zorder=2.5)
for x, y, t in osc_blue_labels:
    axo.text(x, y, t, color='#1a1acc', fontsize=10, fontweight='bold', ha='center', va='center', zorder=4)
for x, y, t in osc_gray_labels:
    axo.text(x, y, t, color='#8a8a8a', fontsize=10, ha='center', va='center', zorder=4)
axo.set_yticks([])
tag(axo, 0.402, '0.402', '#33e033')

# ---------------- marker panel + time axis ----------------
axm.set_ylim(-0.2, 1.6)
axm.vlines(signal_bars, 0.1, 0.9, color='#f5a31a', lw=2.2)
axm.set_yticks([0])
axm.set_yticklabels(['0'])
tag(axm, 1, '1', '#f5a31a', fs=9)
tick_pos = [(int(t[:2]) * 60 + int(t[3:]) - BAR0_MIN) / BAR_MIN for t in time_labels]
axm.set_xticks(tick_pos)
axm.set_xticklabels(time_labels)
axm.tick_params(axis='x', length=4, pad=2, labelsize=9, labelbottom=True, direction='out')
fig.text(3 / W, 1 - 887 / H, '\u00a9 2017 NinjaTrader, LLC', fontsize=8, va='center', ha='left')

# title and outer frame
fig.text(595 / W, 1 - 13 / H, 'ES 09-17 (2 Min)  8/16/2017', fontsize=11, ha='center', va='center')
for py in (27, 690, 754, 822, 878):
    fig.add_artist(Line2D([1124 / W, 1194 / W], [1 - py / H, 1 - py / H], color='black', lw=1))
fig.add_artist(Rectangle((0.5 / W, 1 - 951 / H), 1193.5 / W, 924 / H, transform=fig.transFigure,
                         fill=False, ec='black', lw=1))

fig.savefig('out.png', dpi=100)
